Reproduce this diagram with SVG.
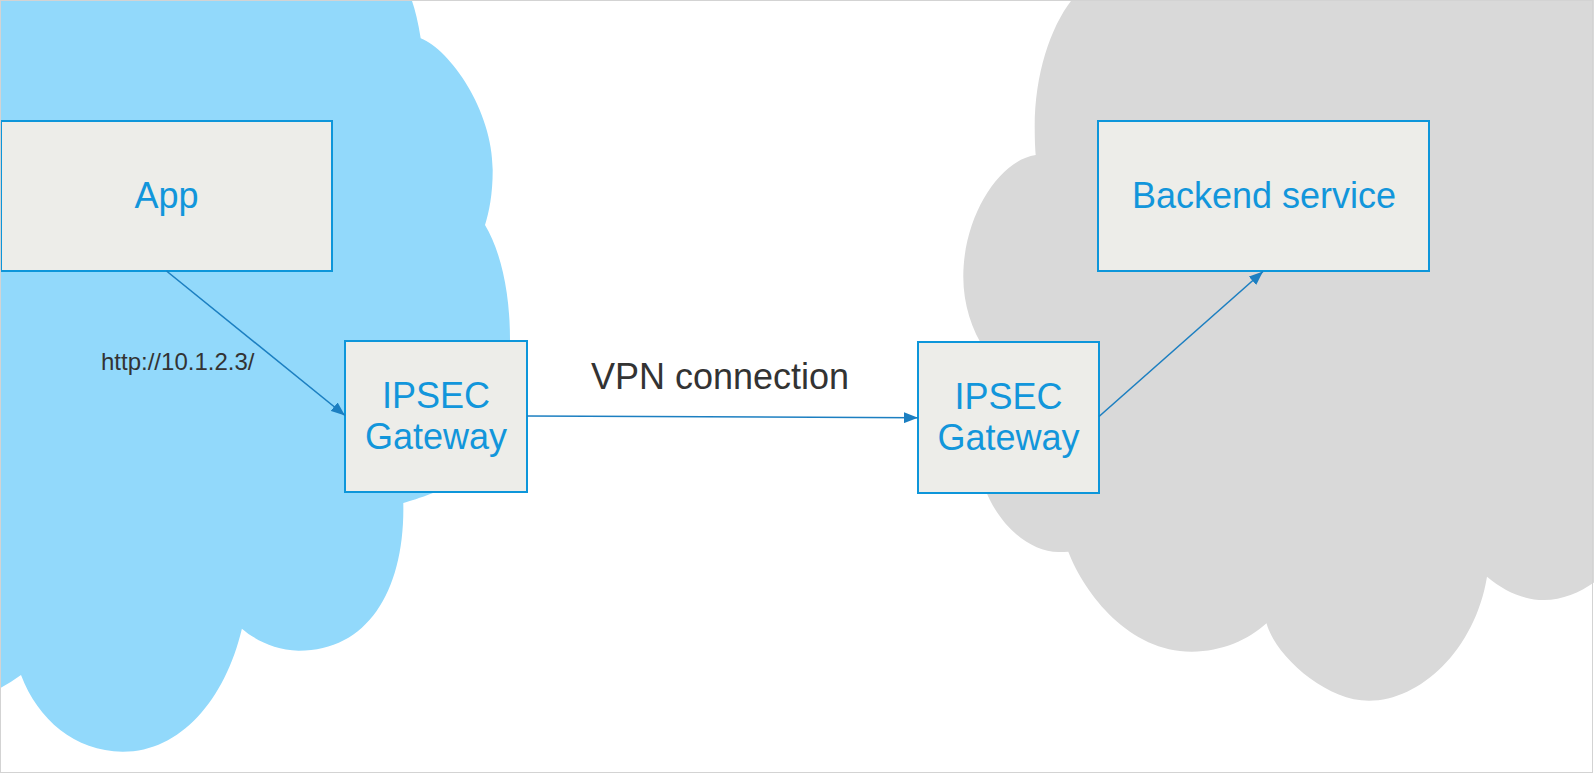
<svg xmlns="http://www.w3.org/2000/svg" width="1594" height="774" viewBox="0 0 1594 774">
  <style>
    .box { fill: #EDEDE9; stroke: #0D96DA; stroke-width: 2; }
    .lbl { font-family: "Liberation Sans", Arial, sans-serif; font-size: 36px; fill: #1296DB; text-anchor: middle; }
    .dark { font-family: "Liberation Sans", Arial, sans-serif; fill: #333333; }
    .conn { fill: none; stroke: #1C7FC1; stroke-width: 1.6; }
  </style>
  <defs>
    <marker id="arrow" markerUnits="userSpaceOnUse" markerWidth="14" markerHeight="11" refX="14" refY="5.5" orient="auto" viewBox="0 0 14 11">
      <path d="M0,0 L14,5.5 L0,11 Z" fill="#1C7FC1"/>
    </marker>
  </defs>
  <rect x="0" y="0" width="1594" height="774" fill="#FFFFFF"/>
  <g id="clouds">
    <path id="cloud-left" fill="#92D9FB" d="M0,0 L411.7,0 Q417,15 420.7,38.3 C450,50 492.7,110 492.7,170 C492.7,195 489,212 485,225 C500,250 510,290 510,340 C510,420 470,480 433,493 C420,498 410,501 403.3,503 C405,590 368,651 298.5,650.7 C275,650 255,640 241.9,628.7 C225,700 180,752 122.5,751.7 C75,751 38,720 21,675 Q10,683 0,688.3 Z"/>
    <path id="cloud-right" fill="#D9D9D9" d="M1071.7,0 C1050,28 1034.7,75 1034.7,126.7 Q1034.7,145 1035.7,155 C1000,160 963.3,215 963.3,276.7 C963.3,305 972,330 985,350 L980,470 C988,515 1025,553 1060,552 Q1064,552 1068.3,551.7 C1085,595 1130,652 1192,651.7 C1222,651.5 1248,640 1266.5,623.3 C1275,655 1325,700.7 1369,700.7 C1420,700.7 1475,650 1487,576.7 C1505,592 1525,600 1544,600 C1565,600 1585,590 1600,578 L1600,0 Z"/>
  </g>
  <g id="node-app">
    <rect class="box" x="1" y="121" width="331" height="150"/>
    <text class="lbl" x="166.5" y="208">App</text>
  </g>
  <g id="node-gw-left">
    <rect class="box" x="345" y="341" width="182" height="151"/>
    <text class="lbl" x="436" y="407.5">IPSEC</text>
    <text class="lbl" x="436" y="449">Gateway</text>
  </g>
  <g id="node-gw-right">
    <rect class="box" x="918" y="342" width="181" height="151"/>
    <text class="lbl" x="1008.5" y="409">IPSEC</text>
    <text class="lbl" x="1008.5" y="450">Gateway</text>
  </g>
  <g id="node-backend">
    <rect class="box" x="1098" y="121" width="331" height="150"/>
    <text class="lbl" x="1264" y="208">Backend service</text>
  </g>
  <g id="connectors">
    <line class="conn" x1="166.5" y1="271" x2="345" y2="415.5" marker-end="url(#arrow)"/>
    <line class="conn" x1="527" y1="416" x2="918" y2="417.7" marker-end="url(#arrow)"/>
    <line class="conn" x1="1099" y1="416.5" x2="1263" y2="271.5" marker-end="url(#arrow)"/>
    <text class="dark" x="101" y="370" font-size="24">http://10.1.2.3/</text>
    <text class="dark" x="720" y="389" font-size="36" text-anchor="middle">VPN connection</text>
  </g>
  <rect x="0.5" y="0.5" width="1592" height="772" fill="none" stroke="#D3D3D3" stroke-width="1"/>
</svg>
